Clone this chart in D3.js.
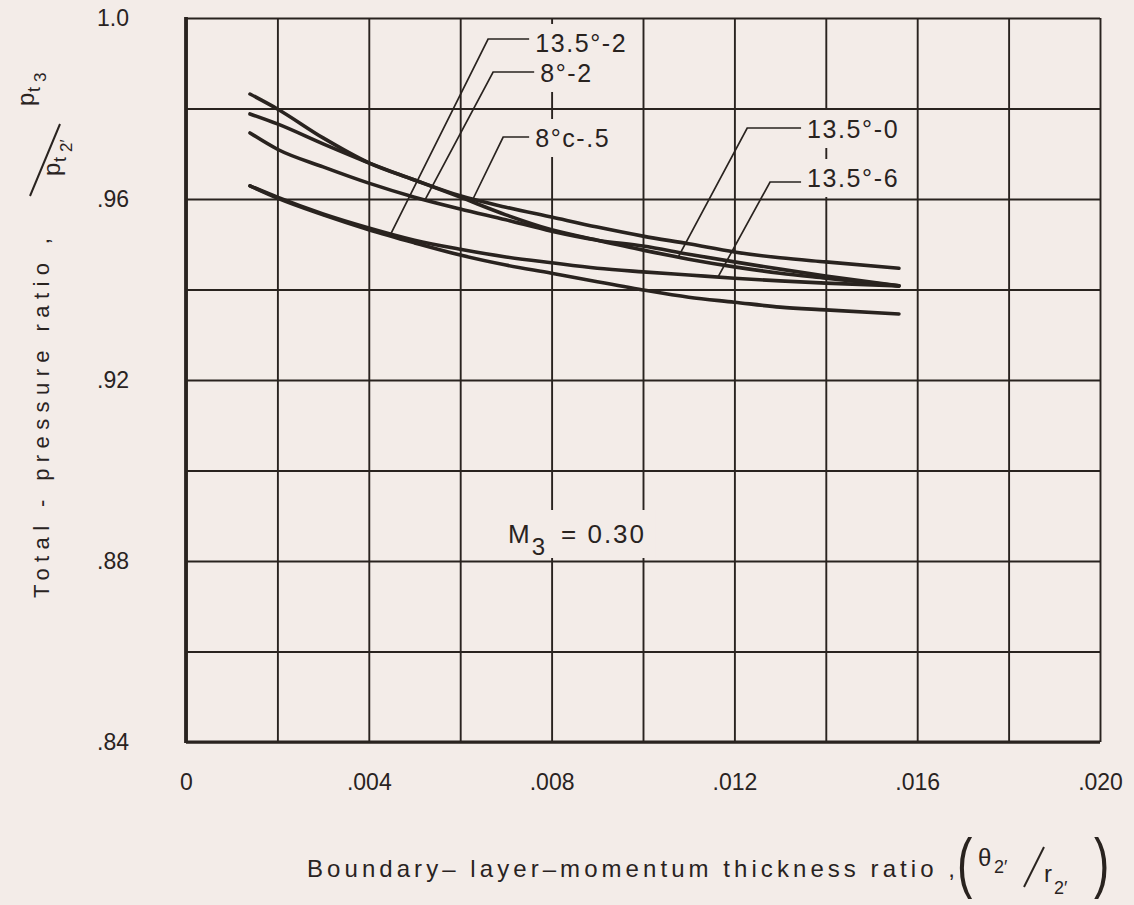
<!DOCTYPE html>
<html>
<head>
<meta charset="utf-8">
<script src="https://cdn.jsdelivr.net/npm/d3@7"></script>
<style>
  body { margin: 0; background: #f3ece8; }
  svg { display: block; }
  text { font-family: "Liberation Sans", sans-serif; fill: #29231f; }
</style>
</head>
<body>
<svg id="chart" width="1134" height="905"></svg>
<script>
// boundary-layer momentum thickness ratio (x) where the curves were read
const thickness = [0.0014, 0.002, 0.003, 0.004, 0.005, 0.006, 0.007, 0.008, 0.009, 0.010, 0.011, 0.012, 0.013, 0.014, 0.0156];

// total-pressure ratio, one array per configuration
const r135_0 = [0.9832, 0.9799, 0.9735, 0.9680, 0.9642, 0.9604, 0.9565, 0.9532, 0.9509, 0.9487, 0.9467, 0.9450, 0.9436, 0.9425, 0.9408];
const r8c_05 = [0.9788, 0.9766, 0.9722, 0.9680, 0.9642, 0.9607, 0.9582, 0.9560, 0.9538, 0.9518, 0.9501, 0.9483, 0.9470, 0.9461, 0.9447];
const r8_2   = [0.9746, 0.9710, 0.9671, 0.9635, 0.9604, 0.9578, 0.9554, 0.9529, 0.9509, 0.9496, 0.9478, 0.9461, 0.9445, 0.9430, 0.9408];
const r135_6 = [0.9629, 0.9604, 0.9567, 0.9536, 0.9509, 0.9489, 0.9472, 0.9459, 0.9447, 0.9439, 0.9432, 0.9425, 0.9419, 0.9414, 0.9408];
const r135_2 = [0.9629, 0.9602, 0.9565, 0.9532, 0.9503, 0.9476, 0.9454, 0.9436, 0.9417, 0.9399, 0.9383, 0.9372, 0.9361, 0.9355, 0.9346];

const seriesNames = ["13.5°-0", "8°c-.5", "8°-2", "13.5°-6", "13.5°-2"];
const seriesValues = [r135_0, r8c_05, r8_2, r135_6, r135_2];

const xTicks = [0, 0.004, 0.008, 0.012, 0.016, 0.020];
const xTickLabels = ["0", ".004", ".008", ".012", ".016", ".020"];
const yTicks = [0.84, 0.88, 0.92, 0.96, 1.0];
const yTickLabels = [".84", ".88", ".92", ".96", "1.0"];

// leader-line callouts: which curve, where it touches, elbow and text spot (data units)
const calloutSeries = ["13.5°-2", "8°-2", "8°c-.5", "13.5°-0", "13.5°-6"];
const calloutAt     = [0.00446, 0.00523, 0.00628, 0.01077, 0.01164];
const calloutElbow  = [[0.00661, 0.99536], [0.00672, 0.98807], [0.00694, 0.97370], [0.01228, 0.97569], [0.01278, 0.96376]];
const calloutText   = [[0.00764, 0.99249], [0.00775, 0.98586], [0.00764, 0.97149], [0.01359, 0.97348], [0.01359, 0.96265]];

const width = 1134, height = 905;
const margin = {top: 18, right: 34, bottom: 163, left: 186};
const ink = "#29231f";
const paper = "#f3ece8";

const svg = d3.select("#chart");
svg.append("rect").attr("width", width).attr("height", height).attr("fill", paper);

const x = d3.scaleLinear().domain([0, 0.020]).range([margin.left, width - margin.right]);
const y = d3.scaleLinear().domain([0.84, 1.0]).range([height - margin.bottom, margin.top]);

// grid
svg.append("g")
  .attr("transform", "translate(0," + (height - margin.bottom) + ")")
  .call(d3.axisBottom(x).tickValues(d3.range(0, 11).map(i => i * 0.002)).tickSize(-(y.range()[0] - y.range()[1])).tickFormat(""))
  .call(g => g.select(".domain").remove())
  .call(g => g.selectAll(".tick line").attr("stroke", ink).attr("stroke-width", 1.9));

svg.append("g")
  .attr("transform", "translate(" + margin.left + ",0)")
  .call(d3.axisLeft(y).tickValues(d3.range(0, 9).map(i => 0.84 + i * 0.02)).tickSize(-(x.range()[1] - x.range()[0])).tickFormat(""))
  .call(g => g.select(".domain").remove())
  .call(g => g.selectAll(".tick line").attr("stroke", ink).attr("stroke-width", 1.9));

// heavier frame on left and bottom
svg.append("line").attr("x1", x(0)).attr("x2", x(0)).attr("y1", y(1.0) - 1).attr("y2", y(0.84) + 1)
  .attr("stroke", ink).attr("stroke-width", 3.8);
svg.append("line").attr("x1", x(0)).attr("x2", x(0.020)).attr("y1", y(0.84)).attr("y2", y(0.84))
  .attr("stroke", ink).attr("stroke-width", 2.8);

// tick labels
svg.append("g")
  .attr("transform", "translate(0," + (height - margin.bottom) + ")")
  .call(d3.axisBottom(x).tickValues(xTicks).tickFormat((d, i) => xTickLabels[i]).tickSize(0).tickPadding(32))
  .call(g => g.select(".domain").remove())
  .call(g => g.selectAll("text").attr("font-size", 23).attr("font-family", "Liberation Sans").attr("fill", ink));

svg.append("g")
  .attr("transform", "translate(" + margin.left + ",0)")
  .call(d3.axisLeft(y).tickValues(yTicks).tickFormat((d, i) => yTickLabels[i]).tickSize(0).tickPadding(57))
  .call(g => g.select(".domain").remove())
  .call(g => g.selectAll("text").attr("font-size", 23).attr("font-family", "Liberation Sans").attr("fill", ink));

// helper: paper-coloured patch behind lettering (the gridlines are broken around it)
const labelLayer = svg.append("g");
function patchBehind(sel, pad, maxY) {
  const b = sel.node().getBBox();
  const y0 = b.y - pad;
  const y1 = Math.min(b.y + b.height + pad, maxY || Infinity);
  labelLayer.insert("rect", ":first-child")
    .attr("x", b.x - pad).attr("y", y0)
    .attr("width", b.width + 2 * pad).attr("height", y1 - y0)
    .attr("fill", paper);
}

// curves
const line = d3.line()
  .x(d => x(d[0]))
  .y(d => y(d[1]))
  .curve(d3.curveMonotoneX);

const curves = svg.append("g");
seriesValues.forEach((vals, i) => {
  curves.append("path")
    .datum(thickness.map((t, j) => [t, vals[j]]))
    .attr("d", line)
    .attr("fill", "none")
    .attr("stroke", ink)
    .attr("stroke-width", 3.6)
    .attr("stroke-linecap", "round");
});

function valueAt(vals, t) {
  const j = Math.max(1, Math.min(thickness.length - 1, d3.bisectLeft(thickness, t)));
  const t0 = thickness[j - 1], t1 = thickness[j];
  return vals[j - 1] + (vals[j] - vals[j - 1]) * (t - t0) / (t1 - t0);
}

// callouts
const texts = svg.append("g");
calloutSeries.forEach((name, i) => {
  const vals = seriesValues[seriesNames.indexOf(name)];
  const ax = calloutAt[i], ay = valueAt(vals, ax);
  const [ex, ey] = calloutElbow[i];
  const [tx, ty] = calloutText[i];
  const lbl = texts.append("text")
    .attr("x", x(tx)).attr("y", y(ty))
    .attr("font-size", 25)
    .attr("letter-spacing", 1.6)
    .text(name);
  patchBehind(lbl, 5);
  svg.append("polyline")
    .attr("points", [[x(ax), y(ay)], [x(ex), y(ey)], [x(tx) - 6, y(ey)]].map(p => p.join(",")).join(" "))
    .attr("fill", "none").attr("stroke", ink).attr("stroke-width", 1.7);
});

// Mach number note
const mach = texts.append("text").attr("x", 508).attr("y", 543).attr("font-size", 26);
mach.append("tspan").text("M");
mach.append("tspan").attr("dy", 12).attr("dx", 2).attr("font-size", 24).text("3");
mach.append("tspan").attr("dy", -12).attr("dx", 16).attr("letter-spacing", 2).text("= 0.30");
patchBehind(mach, 9, y(0.88) - 3);

// x-axis title
svg.append("text")
  .attr("x", 307).attr("y", 877)
  .attr("font-size", 24)
  .attr("textLength", 648).attr("lengthAdjust", "spacing")
  .text("Boundary\u2013 layer\u2013momentum  thickness  ratio ,");
const xt = svg.append("g").attr("font-size", 24);
xt.append("text").attr("transform", "translate(957,885) scale(1,1.45)").attr("font-size", 46).text("(");
xt.append("text").attr("x", 978).attr("y", 866).text("θ");
xt.append("text").attr("x", 994).attr("y", 873).attr("font-size", 18).text("2′");
xt.append("line").attr("x1", 1024).attr("y1", 887).attr("x2", 1044).attr("y2", 847).attr("stroke", ink).attr("stroke-width", 2);
xt.append("text").attr("x", 1044).attr("y", 882).text("r");
xt.append("text").attr("x", 1054).attr("y", 894).attr("font-size", 18).text("2′");
xt.append("text").attr("transform", "translate(1094,885) scale(1,1.45)").attr("font-size", 46).text(")");

// y-axis title (rotated)
svg.append("text")
  .attr("transform", "translate(49,598) rotate(-90)")
  .attr("font-size", 22)
  .attr("textLength", 360).attr("lengthAdjust", "spacing")
  .text("Total - pressure  ratio ,");
function rotText(px, py, size, str) {
  return svg.append("text").attr("transform", "translate(" + px + "," + py + ") rotate(-90)")
    .attr("font-size", size).text(str);
}
rotText(34, 106, 24, "p");
rotText(40, 92, 18, "t");
rotText(46, 82, 17, "3");
svg.append("line").attr("x1", 30).attr("y1", 196).attr("x2", 60).attr("y2", 124).attr("stroke", ink).attr("stroke-width", 2);
rotText(60, 176, 24, "p");
rotText(66, 162, 18, "t");
rotText(72, 152, 17, "2′");
</script>
</body>
</html>
